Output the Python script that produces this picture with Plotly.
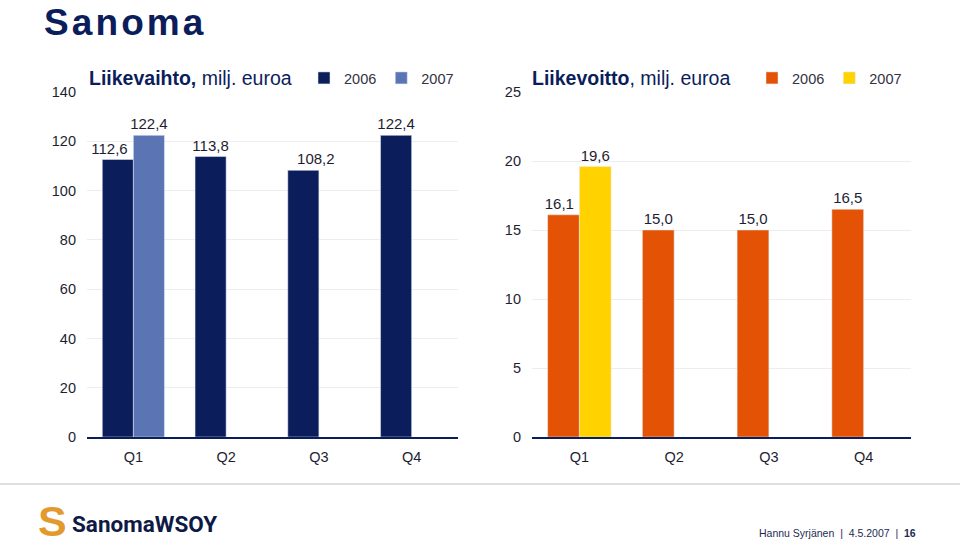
import plotly.graph_objects as go

# ---- data ----
quarters = ["Q1", "Q2", "Q3", "Q4"]
sales_2006 = [112.6, 113.8, 108.2, 122.4]
sales_2007 = [122.4, None, None, None]
profit_2006 = [16.1, 15.0, 15.0, 16.5]
profit_2007 = [19.6, None, None, None]
sales_ticks = [0, 20, 40, 60, 80, 100, 120, 140]
profit_ticks = [0, 5, 10, 15, 20, 25]
series_names = ["2006", "2007"]

NAVY = "#0B1E5B"
LIGHTBLUE = "#5B74B4"
ORANGE = "#E35205"
YELLOW = "#FFD200"
TXT = "#1E1E32"
FONT = "Liberation Sans, Arial, Helvetica, sans-serif"

W, H = 960, 548
FS = "\u2007"  # figure space, used only to nudge a few labels sideways as in the original


def px_x(p):
    return p / W


def px_y(p):
    return 1 - p / H


def fmt(vals, pads=None):
    out = []
    for i, v in enumerate(vals):
        if v is None:
            out.append("")
            continue
        s = f"{v:.1f}".replace(".", ",")
        p = pads[i] if pads else 0
        if p < 0:
            s = s + FS * (-p)
        elif p > 0:
            s = FS * p + s
        out.append(s)
    return out


fig = go.Figure()

common = dict(textposition="outside", cliponaxis=False, constraintext="none",
              textfont=dict(size=15, color=TXT, family=FONT), hoverinfo="skip")

fig.add_trace(go.Bar(x=quarters, y=sales_2006, name=series_names[0], marker_color=NAVY,
                     text=fmt(sales_2006, [-2, 0, 3, 0]), xaxis="x", yaxis="y", legend="legend", **common))
fig.add_trace(go.Bar(x=quarters, y=sales_2007, name=series_names[1], marker_color=LIGHTBLUE,
                     text=fmt(sales_2007), xaxis="x", yaxis="y", legend="legend", **common))
fig.add_trace(go.Bar(x=quarters, y=profit_2006, name=series_names[0], marker_color=ORANGE,
                     text=fmt(profit_2006, [-1, 0, 0, 0]), xaxis="x2", yaxis="y2", legend="legend2", **common))
fig.add_trace(go.Bar(x=quarters, y=profit_2007, name=series_names[1], marker_color=YELLOW,
                     text=fmt(profit_2007), xaxis="x2", yaxis="y2", legend="legend2", **common))

ydom = [px_y(437), px_y(92)]

xcommon = dict(showline=True, linecolor=NAVY, linewidth=1.5, showgrid=False, ticks="",
               tickfont=dict(size=14.5, color=TXT, family=FONT), automargin=False,
               ticklabelstandoff=6, fixedrange=True)
ycommon = dict(showline=False, showgrid=True, gridcolor="#EDEDED", gridwidth=1, zeroline=False,
               ticks="", tickfont=dict(size=14.5, color=TXT, family=FONT), automargin=False,
               ticklabelstandoff=10, fixedrange=True)

legcommon = dict(orientation="h", xanchor="left", yanchor="middle",
                 font=dict(size=14.5, color="#333344", family=FONT), itemwidth=30,
                 bgcolor="rgba(0,0,0,0)", itemclick=False, itemdoubleclick=False)

fig.update_layout(
    width=W, height=H,
    margin=dict(l=0, r=0, t=0, b=0, autoexpand=False),
    paper_bgcolor="white", plot_bgcolor="white",
    barmode="group", bargap=0.33, bargroupgap=0,
    font=dict(family=FONT, color=TXT),
    xaxis=dict(domain=[px_x(87), px_x(458)], anchor="y", **xcommon),
    yaxis=dict(domain=ydom, anchor="x", range=[0, 140], tickvals=sales_ticks, **ycommon),
    xaxis2=dict(domain=[px_x(532), px_x(911)], anchor="y2", **xcommon),
    yaxis2=dict(domain=ydom, anchor="x2", range=[0, 25], tickvals=profit_ticks, **ycommon),
    legend=dict(x=px_x(304), y=px_y(78), **legcommon),
    legend2=dict(x=px_x(752), y=px_y(78), **legcommon),
    showlegend=True,
)

hs = "\u200a"
nb = "\u00a0"
annotations = [
    dict(text="<b>" + hs.join("Sanoma") + "</b>", x=px_x(42), y=1, xanchor="left",
         yanchor="top", font=dict(size=37, color=NAVY, family=FONT)),
    dict(text="<b>Liikevaihto,</b> milj. euroa", x=px_x(87), y=px_y(78), xanchor="left",
         yanchor="middle", font=dict(size=19.5, color=NAVY, family=FONT)),
    dict(text="<b>Liikevoitto</b>, milj. euroa", x=px_x(530), y=px_y(78), xanchor="left",
         yanchor="middle", font=dict(size=19.5, color=NAVY, family=FONT)),
    dict(text="<b>S</b>", x=px_x(52), y=px_y(521), xanchor="center", yanchor="middle",
         font=dict(size=43, color="#E29A2C", family=FONT)),
    dict(text="<b>SanomaWSOY</b>", x=px_x(70), y=px_y(524), xanchor="left", yanchor="middle",
         font=dict(size=22.5, color="#0E1A45", family="Roboto, Liberation Sans, sans-serif")),
    dict(text=f"Hannu Syrjänen{nb}{nb}|{nb}{nb}4.5.2007{nb}{nb}|{nb}{nb}<b>16</b>",
         x=px_x(918), y=px_y(533), xanchor="right", yanchor="middle",
         font=dict(size=10.5, color="#1E2A55", family=FONT)),
]
for a in annotations:
    a.update(xref="paper", yref="paper", showarrow=False)
fig.update_layout(annotations=annotations)

fig.add_shape(type="line", xref="paper", yref="paper", x0=0, x1=1,
              y0=px_y(484), y1=px_y(484), line=dict(color="#D4D4D8", width=1.5))

fig.write_html("out.html", config={"displayModeBar": False},
               post_script="document.body.style.margin='0';")
